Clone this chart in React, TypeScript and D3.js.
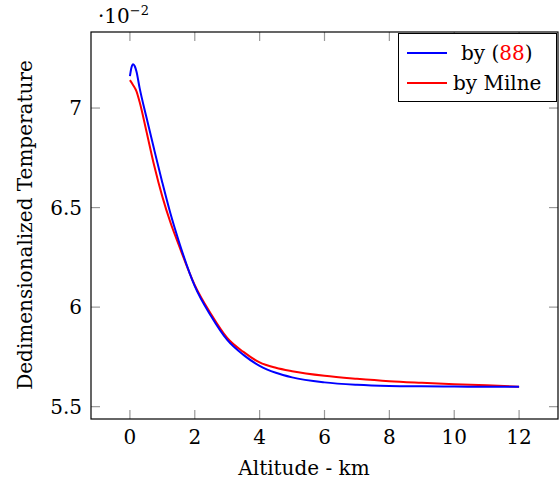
import React from "react";
import * as d3 from "d3";

const xTicks = [0, 2, 4, 6, 8, 10, 12];
const yTicks = [5.5, 6, 6.5, 7];
const yTickLabels = ["5.5", "6", "6.5", "7"];

const blueX = [0, 0.05, 0.1, 0.15, 0.2, 0.3, 0.5, 0.75, 1.0, 1.25, 1.5, 2.0, 2.5, 3.0, 3.5, 4.0, 4.5, 5.0, 6.0, 7.0, 8.0, 9.0, 10.0, 11.0, 12.0];
const blueY = [7.16, 7.205, 7.22, 7.21, 7.185, 7.1, 6.96, 6.79, 6.625, 6.47, 6.335, 6.105, 5.955, 5.835, 5.76, 5.705, 5.67, 5.647, 5.622, 5.61, 5.604, 5.602, 5.601, 5.6, 5.6];

const redX = [0, 0.1, 0.2, 0.3, 0.5, 0.75, 1.0, 1.25, 1.5, 2.0, 2.5, 3.0, 3.5, 4.0, 4.5, 5.0, 6.0, 7.0, 8.0, 9.0, 10.0, 11.0, 12.0];
const redY = [7.14, 7.115, 7.085, 7.03, 6.89, 6.71, 6.555, 6.425, 6.315, 6.11, 5.965, 5.845, 5.775, 5.722, 5.695, 5.678, 5.655, 5.64, 5.628, 5.62, 5.613, 5.607, 5.6];

const FONT = "DejaVu Serif";

export default function App() {
  const W = 559, H = 487;
  const L = 91, R = 558, T = 32, B = 419;
  const x = d3.scaleLinear().domain([-1.2, 13.2]).range([L, R]);
  const y = d3.scaleLinear().domain([5.438, 7.382]).range([B, T]);
  const line = d3.line<[number, number]>().x(d => x(d[0])).y(d => y(d[1])).curve(d3.curveMonotoneX);
  const blue = blueX.map((v, i) => [v, blueY[i]] as [number, number]);
  const red = redX.map((v, i) => [v, redY[i]] as [number, number]);
  const tl = 9;
  const tickColor = "#999";
  const fs = 20;
  return (
    <svg width={W} height={H} style={{ position: "absolute", left: 0, top: 0, background: "#fff" }}>
      <rect x={0} y={0} width={W} height={H} fill="#fff" />
      {xTicks.map(t => (
        <g key={"x" + t}>
          <line x1={x(t)} x2={x(t)} y1={B} y2={B - tl} stroke={tickColor} strokeWidth={1.2} />
          <line x1={x(t)} x2={x(t)} y1={T} y2={T + tl} stroke={tickColor} strokeWidth={1.2} />
          <text x={x(t)} y={444} textAnchor="middle" fontFamily={FONT} fontSize={fs}>{t}</text>
        </g>
      ))}
      {yTicks.map((t, i) => (
        <g key={"y" + t}>
          <line x1={L} x2={L + tl} y1={y(t)} y2={y(t)} stroke={tickColor} strokeWidth={1.2} />
          <line x1={R} x2={R - tl} y1={y(t)} y2={y(t)} stroke={tickColor} strokeWidth={1.2} />
          <text x={82} y={y(t) + 7} textAnchor="end" fontFamily={FONT} fontSize={fs}>{yTickLabels[i]}</text>
        </g>
      ))}
      <path d={line(red) || ""} fill="none" stroke="#ff0000" strokeWidth={2} />
      <path d={line(blue) || ""} fill="none" stroke="#0000ff" strokeWidth={2} />
      <rect x={L} y={T} width={R - L} height={B - T} fill="none" stroke="#000" strokeWidth={1.2} />
      <g>
        <rect x={398.5} y={33.5} width={158} height={68} fill="#fff" stroke="#000" strokeWidth={1} />
        <line x1={407} x2={447} y1={53} y2={53} stroke="#0000ff" strokeWidth={2} />
        <text x={461} y={60} fontFamily={FONT} fontSize={fs}>by (<tspan fill="#ff0000">88</tspan>)</text>
        <line x1={407} x2={447} y1={83} y2={83} stroke="#ff0000" strokeWidth={2} />
        <text x={453} y={90} fontFamily={FONT} fontSize={fs}>by Milne</text>
      </g>
      <text x={98} y={23} fontFamily={FONT} fontSize={fs}>·10<tspan dy={-8} fontSize={13}>−2</tspan></text>
      <text x={304} y={475} textAnchor="middle" fontFamily={FONT} fontSize={fs}>Altitude - km</text>
      <text transform={`translate(32,225) rotate(-90)`} textAnchor="middle" fontFamily={FONT} fontSize={fs}>Dedimensionalized Temperature</text>
    </svg>
  );
}
